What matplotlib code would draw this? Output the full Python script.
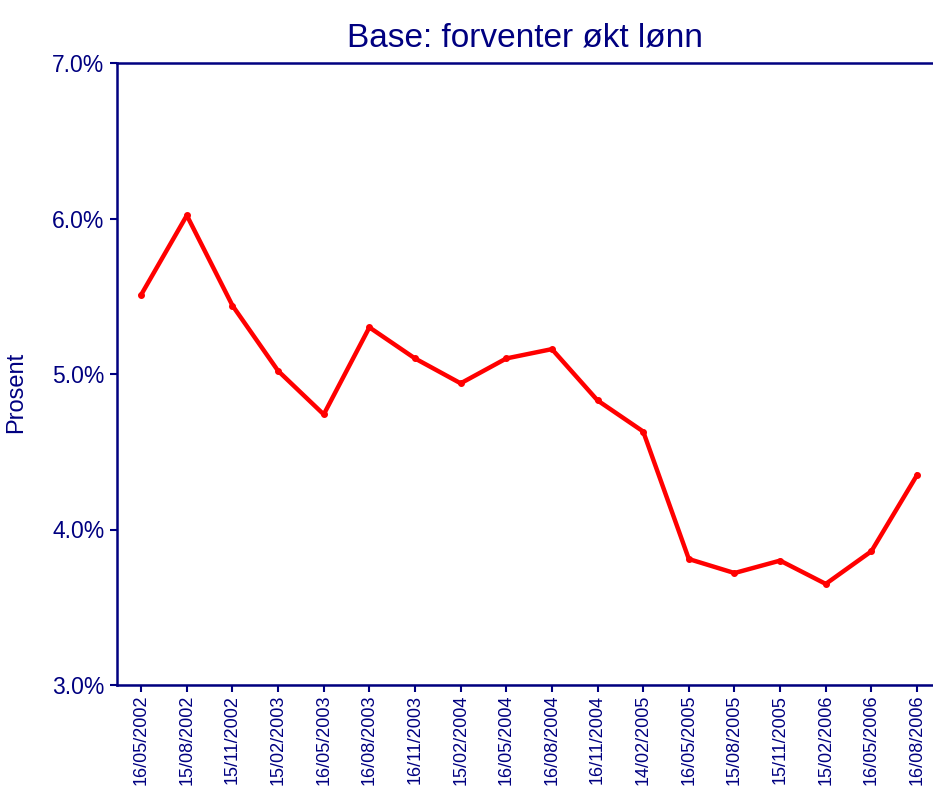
import matplotlib
matplotlib.use("Agg")
import matplotlib.pyplot as plt
from matplotlib.ticker import FuncFormatter

plt.rcParams["font.family"] = ["Liberation Sans", "DejaVu Sans"]

# survey dates and share (%) expecting higher wages
dates = ["16/05/2002", "15/08/2002", "15/11/2002", "15/02/2003", "16/05/2003",
         "16/08/2003", "16/11/2003", "15/02/2004", "16/05/2004", "16/08/2004",
         "16/11/2004", "14/02/2005", "16/05/2005", "15/08/2005", "15/11/2005",
         "15/02/2006", "16/05/2006", "16/08/2006"]
values = [5.51, 6.02, 5.44, 5.02, 4.74, 5.30, 5.10, 4.94, 5.10, 5.16,
          4.83, 4.63, 3.81, 3.72, 3.80, 3.65, 3.86, 4.35]
yticks = [3.0, 4.0, 5.0, 6.0, 7.0]

navy = "#000080"

fig = plt.figure(figsize=(9.33, 7.86), dpi=100)
ax = fig.add_axes([117 / 933, 1 - 685 / 786, 1 - 117 / 933, (685 - 63) / 786])

x = list(range(len(dates)))
ax.plot(x, values, color="#ff0000", linewidth=3.2, marker="o", markersize=4,
        solid_joinstyle="round", zorder=3)

ax.set_xlim(-0.53, len(dates) - 1 + 0.35)
ax.set_ylim(3.0, 7.0)
ax.set_yticks(yticks)
ax.yaxis.set_major_formatter(FuncFormatter(lambda v, p: f"{v:.1f}%"))
ax.set_xticks(x)
ax.set_xticklabels(dates, rotation=90)

ax.tick_params(axis="y", colors=navy, labelsize=16.5, length=5, width=1.5, pad=4)
ax.tick_params(axis="x", colors=navy, labelsize=13, length=5, width=1.5, pad=2)
for lab in ax.get_xticklabels() + ax.get_yticklabels():
    lab.set_color(navy)

for side in ["left", "top", "bottom"]:
    ax.spines[side].set_color(navy)
    ax.spines[side].set_linewidth(1.8)
ax.spines["right"].set_visible(False)
ax.axhline(3.0, color="#808080", linewidth=1, zorder=1)

ax.set_ylabel("Prosent", color=navy, fontsize=17, labelpad=30)
ax.yaxis.set_label_coords(-90 / 816, 0.47)
ax.set_title("Base: forventer økt lønn", color=navy, fontsize=24, pad=12)

fig.savefig("out.png", dpi=100)
